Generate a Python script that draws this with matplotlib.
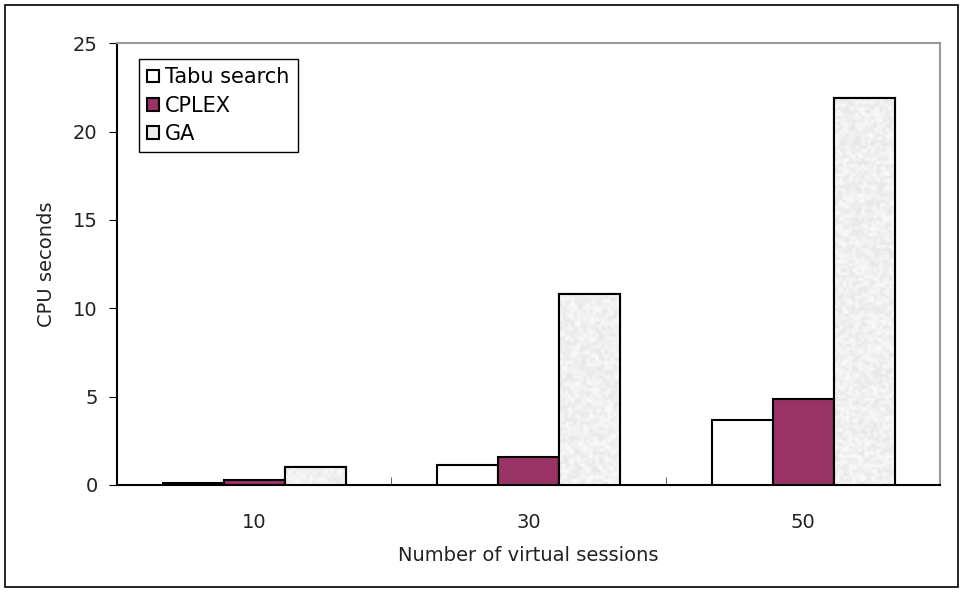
import numpy as np
import matplotlib.pyplot as plt
from matplotlib.patches import Rectangle

sessions = ["10", "30", "50"]
tabu = [0.1, 1.1, 3.65]
cplex = [0.3, 1.6, 4.85]
ga = [1.0, 10.8, 21.9]

plt.rcParams['font.family'] = ['DejaVu Sans']

fig = plt.figure(figsize=(9.63, 5.92), dpi=100)
ax = fig.add_axes([0.1215, 0.181, 0.855, 0.746])

# thin frame around the whole figure
fig.patches.append(Rectangle((5 / 963, 5 / 592), 953 / 963, 582 / 592,
                             transform=fig.transFigure, fill=False,
                             edgecolor='black', linewidth=1.2))

x = np.arange(len(sessions))
w = 0.222
b1 = ax.bar(x - w, tabu, w, color='white', edgecolor='black', linewidth=1.5, label='Tabu search', zorder=3)
b2 = ax.bar(x, cplex, w, color='#993366', edgecolor='black', linewidth=1.5, label='CPLEX', zorder=3)
b3 = ax.bar(x + w, ga, w, color='#ececec', edgecolor='black', linewidth=1.5, label='GA', zorder=3)

# speckled fill for GA bars
rng = np.random.default_rng(3)
for p in b3.patches:
    rows = max(2, int(p.get_height() * 17.7 / 3))
    noise = 0.90 + 0.08 * rng.random((rows, 20))
    im = ax.imshow(noise, cmap='gray', vmin=0, vmax=1, aspect='auto',
                   extent=(p.get_x(), p.get_x() + p.get_width(), 0, p.get_height()),
                   interpolation='bilinear', zorder=3.5)
    im.set_clip_path(p)
    ax.add_patch(Rectangle((p.get_x(), 0), p.get_width(), p.get_height(),
                           fill=False, edgecolor='black', linewidth=1.5, zorder=4))

ax.set_xlim(-0.5, 2.5)
ax.set_ylim(0, 25)
ax.set_yticks(range(0, 26, 5))
ax.set_xticks(x)
ax.set_xticklabels(sessions)
ax.set_xticks([-0.5, 0.5, 1.5, 2.5], minor=True)
ax.tick_params(axis='x', which='major', length=0, labelsize=14, pad=20, labelcolor='#222222')
ax.tick_params(axis='x', which='minor', direction='in', length=6, color='#444444')
ax.tick_params(axis='y', direction='out', length=6, labelsize=14, pad=8, labelcolor='#222222')

for s in ['left', 'bottom']:
    ax.spines[s].set_color('black')
    ax.spines[s].set_linewidth(1.5)
for s in ['top', 'right']:
    ax.spines[s].set_color('#999999')
    ax.spines[s].set_linewidth(1.5)

ax.set_xlabel('Number of virtual sessions', fontsize=14, labelpad=10, color='#222222')
ax.set_ylabel('CPU seconds', fontsize=14, labelpad=12, color='#222222')

leg = ax.legend(loc='upper left', bbox_to_anchor=(0.0267, 0.964), borderaxespad=0,
                fontsize=15, handlelength=0.55, handleheight=0.55, handletextpad=0.3,
                labelspacing=0.4, borderpad=0.4, fancybox=False, framealpha=1)
leg.get_frame().set_edgecolor('black')
leg.get_frame().set_linewidth(1.0)

fig.savefig('out.png', dpi=100)
